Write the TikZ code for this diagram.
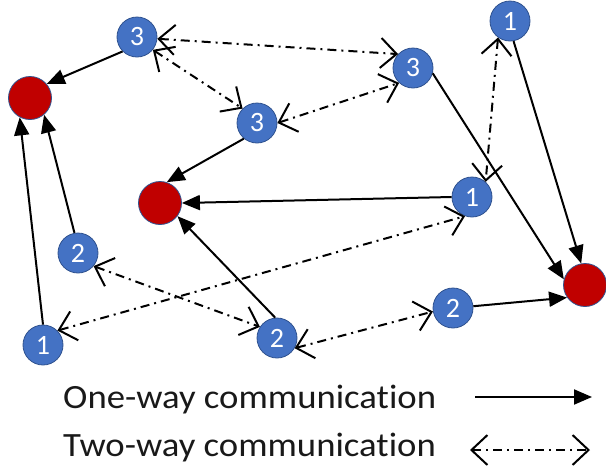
\documentclass[tikz,border=0pt]{standalone}
\usepackage{fontspec}
\setmainfont{Carlito}
\newfontfamily\legendfont[FakeStretch=1.08,Ligatures={NoCommon}]{Carlito}
\usetikzlibrary{arrows.meta}
\definecolor{nodeblue}{HTML}{4472C4}
\definecolor{nodeedge}{HTML}{2F528F}
\definecolor{nodered}{HTML}{C00000}
\begin{document}
\begin{tikzpicture}[x=1pt,y=-1pt,
  agent/.style={circle, fill=nodeblue, draw=nodeedge, line width=0.8pt, minimum size=40pt, inner sep=0pt, text=white, font=\fontsize{28}{28}\selectfont},
  sink/.style={circle, fill=nodered, draw=nodeedge, line width=0.8pt, minimum size=43pt, inner sep=0pt},
  oneway/.style={line width=2pt, -{Triangle[length=18pt,width=15pt]}},
  twoway/.style={line width=2pt, dash pattern=on 9pt off 5pt on 2pt off 5pt,
     {Straight Barb[length=16pt,width=30pt,line width=2pt]}-{Straight Barb[length=16pt,width=30pt,line width=2pt]}},
  legendtext/.style={anchor=base west, inner sep=0pt, font=\legendfont\fontsize{34}{34}\selectfont, text=black!90}
]
\useasboundingbox (0,0) rectangle (606,472);
% sinks
\node[sink] (r1) at (30,98) {};
\node[sink] (r2) at (160,203) {};
\node[sink] (r3) at (585,285) {};
% agents
\node[agent] (a) at (137,37) {3};
\node[agent] (b) at (257,123) {3};
\node[agent] (c) at (413,68) {3};
\node[agent] (d) at (510,21) {1};
\node[agent] (e) at (472,197) {1};
\node[agent] (f) at (78,253) {2};
\node[agent] (g) at (43,345) {1};
\node[agent] (h) at (277,338) {2};
\node[agent] (i) at (453,308) {2};
% one-way
\draw[oneway] (a.225) -- (r1.40);
\draw[oneway] (f.100) -- (r1.-50);
\draw[oneway] (g.90) -- (r1.-118);
\draw[oneway] (b.-130) -- (r2.72);
\draw[oneway] (e.180) -- (r2.0);
\draw[oneway] (h.95) -- (r2.-37);
\draw[oneway] (c.-15) -- (r3.165);
\draw[oneway] (d.-80) -- (r3.100);
\draw[oneway] (i.5) -- (r3.-145);
% two-way
\draw[twoway] (a.-5) -- (c.137);
\draw[twoway] (a.-39) -- (b.135);
\draw[twoway] (b.0) -- (c.227);
\draw[twoway] (d.-126) -- (e.48);
\draw[twoway] (g.45) -- (e.-110);
\draw[twoway] (f.-40) -- (h.147);
\draw[twoway] (h.-30) -- (i.190);
% legend
\node[legendtext] (l1) at (63,408) {One-way communication};
\node[legendtext] (l2) at (63,456) {Two-way communication};
\coordinate (l1s) at (475,397);
\coordinate (l1e) at (592,397);
\coordinate (l2s) at (470,450);
\coordinate (l2e) at (590,450);
\draw[oneway] (l1s) -- (l1e);
\draw[twoway] (l2s) -- (l2e);
\end{tikzpicture}
\end{document}
